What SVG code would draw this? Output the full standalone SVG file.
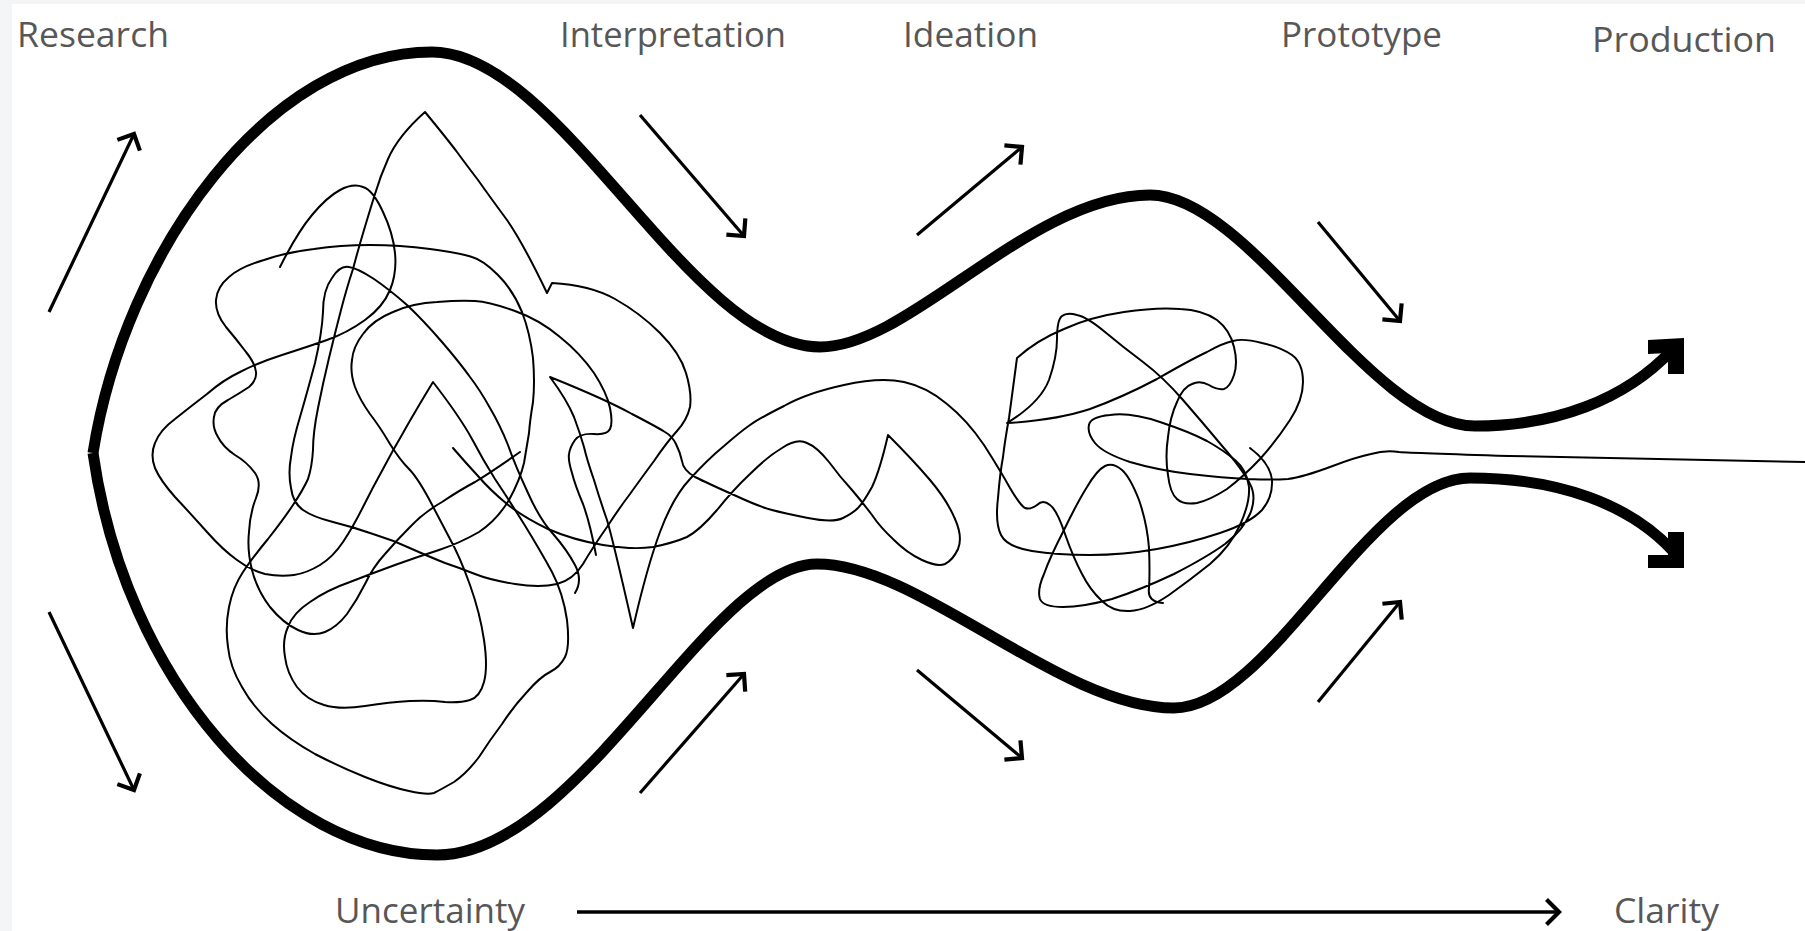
<svg xmlns="http://www.w3.org/2000/svg" width="1805" height="931" viewBox="0 0 1805 931">
<style>
.lbl{font-family:"Open Sans","Liberation Sans",sans-serif;font-size:34px;fill:#575757}
.outline{fill:none;stroke:#000;stroke-width:11;stroke-linecap:butt;stroke-linejoin:round}
.scr{fill:none;stroke:#000;stroke-width:2;stroke-linecap:round;stroke-linejoin:round}
.thin{fill:none;stroke:#000;stroke-width:3.2;marker-end:url(#chev)}
.axis{fill:none;stroke:#000;stroke-width:3.6;marker-end:url(#chev)}
</style>
<defs>
<marker id="chev" viewBox="-16 -16 21 32" markerWidth="21" markerHeight="32" markerUnits="userSpaceOnUse" refX="0" refY="0" orient="auto" overflow="visible">
<path d="M-12.5,-12.5 L0,0 L-12.5,12.5" fill="none" stroke="#000" stroke-width="4.2" stroke-linejoin="miter"/>
</marker>
</defs>
<rect x="0" y="0" width="1805" height="931" fill="#f3f5f7"/>
<rect x="12" y="4" width="1793" height="927" fill="#ffffff"/>

<g id="labels">
<text class="lbl" x="17" y="47" textLength="152" lengthAdjust="spacingAndGlyphs">Research</text>
<text class="lbl" x="560" y="47" textLength="226" lengthAdjust="spacingAndGlyphs">Interpretation</text>
<text class="lbl" x="903" y="47" textLength="135" lengthAdjust="spacingAndGlyphs">Ideation</text>
<text class="lbl" x="1281" y="47" textLength="161" lengthAdjust="spacingAndGlyphs">Prototype</text>
<text class="lbl" x="1592" y="52" textLength="184" lengthAdjust="spacingAndGlyphs">Production</text>
<text class="lbl" x="335" y="923" textLength="190" lengthAdjust="spacingAndGlyphs">Uncertainty</text>
<text class="lbl" x="1614" y="923" textLength="105" lengthAdjust="spacingAndGlyphs">Clarity</text>
</g>

<g id="outline">
<path class="outline" d="M 93,453 C 125,250 270,52 432,52 C 560,52 690,347 820,347 C 910,347 1030,195 1150,195 C 1250,195 1370,426 1475,426 C 1555,426 1625,400 1672,350"/>
<path class="outline" d="M 93,453 C 125,680 280,855 437,855 C 580,855 710,564 817,564 C 920,564 1060,708 1174,708 C 1270,708 1370,478 1470,478 C 1560,478 1630,505 1672,550"/>
<polygon points="1648,340 1684,338 1684,374 1668,374 1668,353 1648,354" fill="#000"/>
<polygon points="1668,532 1684,532 1684,568 1648,568 1648,555 1668,555" fill="#000"/>
</g>

<g id="scribble">
<path class="scr" d="M 280,267 Q 297,233 312,215 Q 327,197 340,190 Q 353,183 363,187 Q 373,190 383,212 Q 393,233 395,253 Q 397,273 390,290 Q 383,307 365,320 Q 347,333 327,340 Q 307,347 282,355 Q 257,363 240,372 Q 223,380 207,394 Q 190,407 175,419 Q 160,430 155,443 Q 150,455 155,468 Q 160,480 175,497 Q 190,513 207,532 Q 223,550 237,560 Q 250,570 265,574 Q 280,577 294,575 Q 307,573 320,565 Q 333,557 343,542 Q 353,527 363,507 Q 373,487 383,469 Q 393,450 403,433 Q 413,415 433,382 Q 460,417 472,439 Q 483,460 495,479 Q 507,497 524,524 Q 540,550 552,572 Q 563,593 567,620 Q 570,647 565,657 Q 560,667 550,672 Q 540,677 527,692 Q 513,707 502,724 Q 490,740 479,757 Q 467,773 454,782 Q 440,790 434,793 Q 427,795 409,791 Q 390,787 365,777 Q 340,767 315,754 Q 290,740 272,724 Q 253,707 242,687 Q 230,667 228,647 Q 225,627 229,607 Q 233,587 243,572 Q 253,557 268,539 Q 283,520 293,505 Q 303,490 308,479 Q 312,467 313,450 Q 313,433 318,408 Q 323,383 329,358 Q 335,333 341,310 Q 347,287 353,269 Q 358,250 364,230 Q 370,210 375,194 Q 380,177 388,159 Q 398,136 425,112 Q 448,140 457,152 Q 465,163 478,180 Q 490,197 507,220 Q 523,243 547,293 L 552,283 Q 590,285 615,299 Q 640,313 660,333 Q 680,353 686,373 Q 692,393 690,407 Q 687,420 677,431 Q 667,442 654,461 Q 640,480 630,494 Q 620,507 607,527 Q 593,547 583,564 Q 573,580 557,584 Q 540,588 515,584 Q 490,580 475,574 Q 460,568 445,563 Q 430,557 412,549 Q 393,540 373,534 Q 353,527 333,522 Q 313,517 303,510 Q 293,503 291,488 Q 288,473 291,457 Q 293,440 300,417 Q 307,393 315,363 Q 322,333 323,312 Q 323,290 332,278 Q 340,265 349,267 Q 357,268 374,279 Q 390,290 407,305 Q 423,320 442,342 Q 460,363 470,377 Q 480,390 490,408 Q 500,425 508,445 Q 515,465 528,493 Q 540,520 554,535 Q 567,550 575,565 Q 583,580 575,593"/>
<path class="scr" d="M 596,555 Q 590,523 583,504 Q 575,485 572,473 Q 568,460 569,454 Q 570,447 575,440 Q 580,433 594,434 Q 607,435 610,429 Q 613,423 610,408 Q 607,393 594,373 Q 580,353 560,337 Q 540,320 515,311 Q 490,302 475,301 Q 460,300 437,302 Q 413,303 393,312 Q 373,320 363,334 Q 353,347 352,360 Q 350,373 355,387 Q 360,400 370,414 Q 380,427 390,444 Q 400,460 409,469 Q 417,477 429,499 Q 440,520 450,539 Q 460,557 470,585 Q 480,613 484,640 Q 488,667 484,682 Q 480,697 470,700 Q 460,703 445,702 Q 430,700 410,701 Q 390,702 365,706 Q 340,710 324,705 Q 307,700 297,687 Q 287,673 285,657 Q 282,640 288,627 Q 293,613 310,602 Q 327,590 350,582 Q 373,573 395,565 Q 417,557 439,550 Q 460,543 479,532 Q 497,520 509,500 Q 520,480 524,463 Q 527,445 529,433 Q 530,420 533,402 Q 535,383 533,358 Q 530,333 522,312 Q 513,290 498,275 Q 483,260 472,257 Q 460,253 430,249 Q 400,245 370,245 Q 340,245 314,249 Q 287,252 264,260 Q 240,267 229,277 Q 217,287 216,300 Q 215,313 226,327 Q 237,340 246,352 Q 255,363 256,372 Q 257,380 249,387 Q 240,393 228,400 Q 215,407 214,417 Q 212,427 218,437 Q 223,447 235,455 Q 247,462 255,473 Q 262,483 256,498 Q 250,513 249,532 Q 247,550 252,570 Q 257,590 270,607 Q 283,623 298,630 Q 313,637 325,632 Q 337,627 347,614 Q 357,600 365,584 Q 373,567 385,554 Q 397,540 410,527 Q 423,513 442,502 Q 460,490 475,482 Q 490,473 520,452"/>
<path class="scr" d="M 453,448 Q 465,462 478,476 Q 490,490 507,504 Q 523,517 548,529 Q 573,540 603,545 Q 633,550 653,547 Q 673,543 687,537 Q 700,530 717,510 Q 733,490 750,474 Q 767,457 782,448 Q 797,438 807,443 Q 817,447 829,462 Q 840,477 852,490 Q 863,503 872,515 Q 880,527 894,540 Q 907,553 922,560 Q 937,567 945,564 Q 953,560 958,549 Q 963,537 955,519 Q 947,500 930,480 Q 913,460 888,435 Q 880,470 872,487 Q 863,503 858,508 Q 853,513 843,518 Q 833,523 808,518 Q 783,513 772,510 Q 760,507 734,495 Q 707,483 695,477 Q 683,470 682,461 Q 680,452 676,444 Q 672,436 665,432 Q 657,427 632,414 Q 607,400 550,377 Q 567,400 574,417 Q 580,433 584,447 Q 587,460 594,480 Q 600,500 607,520 Q 613,540 633,628 Q 647,567 660,532 Q 673,497 690,479 Q 707,460 724,446 Q 740,432 750,425 Q 760,418 784,406 Q 807,393 844,385 Q 880,377 904,382 Q 927,387 947,404 Q 967,420 984,445 Q 1000,470 1010,488 Q 1020,505 1025,508 Q 1030,510 1037,505 Q 1043,499 1050,505 Q 1057,510 1065,534 Q 1073,557 1082,574 Q 1090,590 1102,601 Q 1113,612 1130,611 Q 1147,610 1169,595 Q 1190,580 1210,564 Q 1230,547 1240,525 Q 1250,503 1249,487 Q 1247,470 1235,460 Q 1223,450 1207,441 Q 1190,432 1160,422 Q 1130,412 1110,415 Q 1090,417 1089,425 Q 1087,433 1095,443 Q 1103,453 1130,462 Q 1157,470 1190,474 Q 1223,478 1248,479 Q 1273,480 1288,479 Q 1303,477 1330,467 Q 1356,457 1371,454 Q 1385,450 1399,452 Q 1413,453 1509,456 Q 1604,458 1805,462"/>
<path class="scr" d="M 1163,603 Q 1147,602 1149,588 Q 1150,573 1149,548 Q 1147,523 1139,500 Q 1130,477 1122,470 Q 1113,462 1105,466 Q 1097,470 1087,487 Q 1077,503 1064,530 Q 1050,557 1044,574 Q 1037,590 1040,599 Q 1043,607 1063,607 Q 1083,607 1112,599 Q 1140,590 1174,574 Q 1207,557 1225,544 Q 1243,530 1250,514 Q 1257,497 1250,484 Q 1243,470 1223,447 Q 1203,423 1183,400 Q 1163,377 1143,362 Q 1123,347 1105,332 Q 1087,317 1077,315 Q 1067,312 1062,316 Q 1057,320 1057,339 Q 1057,357 1049,380 Q 1040,403 1007,423 Q 1057,420 1090,409 Q 1123,397 1157,379 Q 1190,360 1207,352 Q 1223,343 1233,341 Q 1243,338 1262,343 Q 1280,347 1292,355 Q 1303,363 1303,382 Q 1303,400 1290,420 Q 1277,440 1260,459 Q 1243,477 1227,489 Q 1210,500 1197,503 Q 1183,505 1177,499 Q 1170,493 1168,475 Q 1165,457 1168,437 Q 1170,417 1177,402 Q 1183,387 1192,384 Q 1200,380 1209,385 Q 1217,390 1224,389 Q 1230,387 1234,375 Q 1238,363 1234,347 Q 1230,330 1217,320 Q 1203,310 1180,309 Q 1157,307 1124,312 Q 1090,317 1064,329 Q 1037,340 1017,358 Q 1012,395 1009,418 Q 1005,440 1003,457 Q 1000,473 998,498 Q 995,523 1001,535 Q 1007,547 1032,551 Q 1057,555 1090,555 Q 1123,555 1157,549 Q 1190,543 1220,533 Q 1250,523 1262,510 Q 1273,497 1272,480 Q 1270,463 1250,448"/>
</g>

<g id="connectors">
<line class="thin" x1="49" y1="312" x2="134" y2="134"/>
<line class="thin" x1="49" y1="612" x2="134" y2="790"/>
<line class="thin" x1="640" y1="115" x2="744" y2="236"/>
<line class="thin" x1="640" y1="793" x2="744" y2="674"/>
<line class="thin" x1="917" y1="235" x2="1022" y2="147"/>
<line class="thin" x1="917" y1="670" x2="1022" y2="758"/>
<line class="thin" x1="1318" y1="222" x2="1400" y2="321"/>
<line class="thin" x1="1318" y1="702" x2="1400" y2="602"/>
<line class="axis" x1="577" y1="912" x2="1559" y2="912"/>
</g>
</svg>
